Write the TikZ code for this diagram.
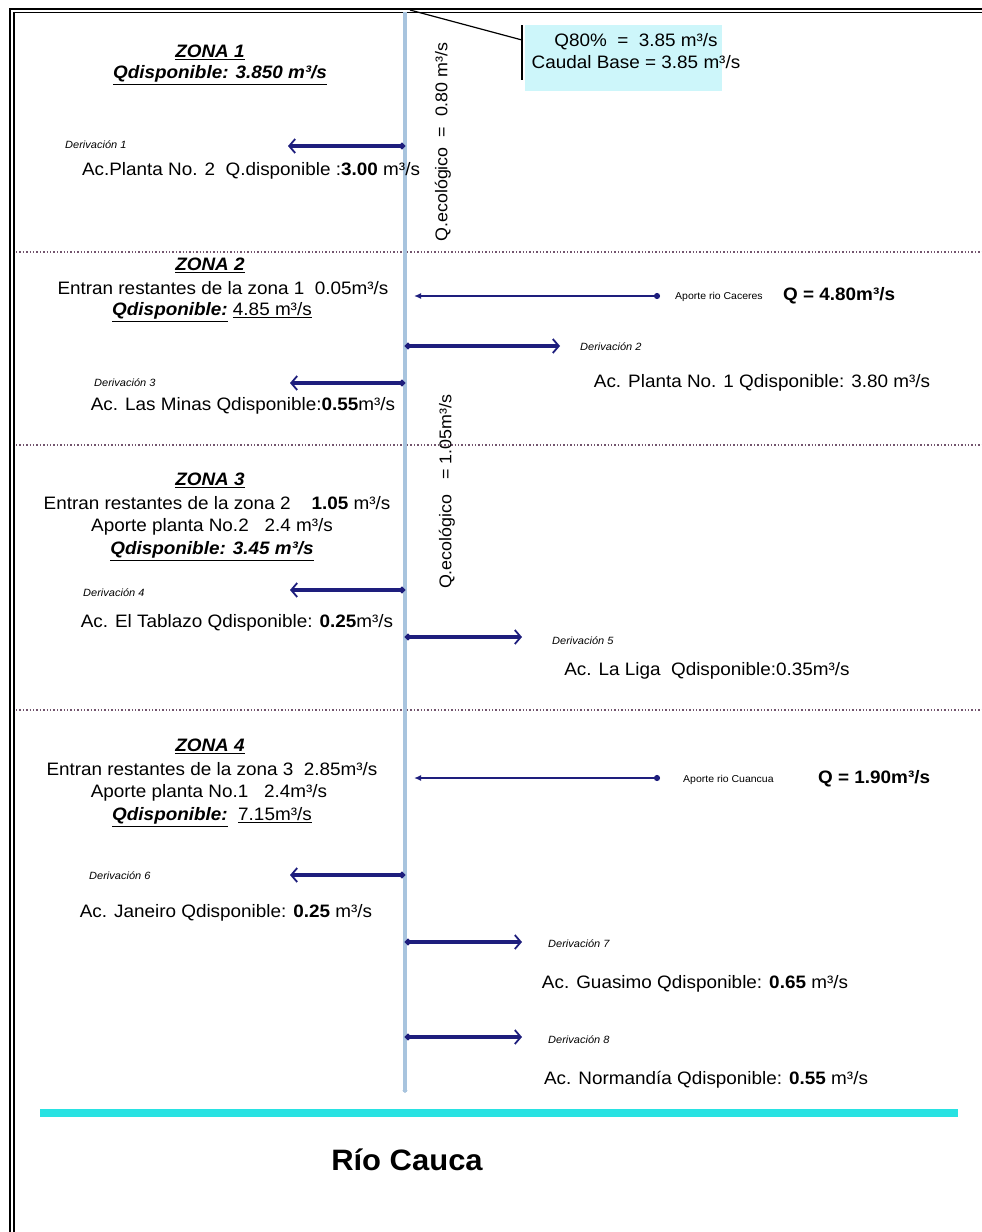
\documentclass[tikz,border=0pt]{standalone}
\usepackage{fontspec}
\setmainfont[FakeStretch=1.05]{Liberation Sans}
\usetikzlibrary{arrows.meta}
\definecolor{navy}{RGB}{30,30,125}
\definecolor{riv}{RGB}{168,196,222}
\definecolor{cauca}{RGB}{40,226,226}
\definecolor{boxc}{RGB}{205,246,250}
\definecolor{sepc}{RGB}{115,85,110}
\begin{document}
\begin{tikzpicture}[x=1pt,y=-1pt,
  txt/.style={font=\fontsize{18}{21}\selectfont, inner sep=0pt},
  zhead/.style={font=\fontsize{18}{21}\selectfont\bfseries\itshape, inner sep=0pt},
  derlab/.style={font=\fontsize{10.5}{12}\selectfont\itshape, inner sep=0pt, anchor=west},
  tinylab/.style={font=\fontsize{10}{12}\selectfont, inner sep=0pt, anchor=west},
  ecolab/.style={font=\fontsize{17}{19}\selectfont, inner sep=0pt, rotate=90},
  derarrow/.style={navy, line width=3.2pt, {Circle[length=6pt]}-{Straight Barb[length=6pt,width=14pt,line width=1.8pt]}},
  aparrow/.style={navy, line width=2pt, {Circle[length=6pt]}-{Latex[length=7pt,width=6pt]}},
  sepline/.style={sepc, dotted, line width=1.4pt},
  frame/.style={black, line width=1.4pt}
]
\useasboundingbox (0,0) rectangle (982,1232);
\fill[white] (0,0) rectangle (982,1232);

% frame
\draw[frame] (10,1232) -- (10,9) -- (982,9);
\draw[frame] (14,1232) -- (14,12.5) -- (982,12.5);

% separators
\coordinate (s1a) at (16,252); \coordinate (s1b) at (982,252);
\coordinate (s2a) at (16,445); \coordinate (s2b) at (982,445);
\coordinate (s3a) at (16,710); \coordinate (s3b) at (982,710);
\draw[sepline] (s1a) -- (s1b);
\draw[sepline] (s2a) -- (s2b);
\draw[sepline] (s3a) -- (s3b);

% Q80 box and leader
\node[fill=boxc, minimum width=197pt, minimum height=66pt, inner sep=0pt] (q80box) at (623.5,58) {};
\node[txt, align=center] (q80t) at (636,51) {Q80\%\ \ =\ \ 3.85 m³/s\\[1pt]Caudal Base = 3.85 m³/s};
\coordinate (lead0) at (410,10);
\coordinate (lead1) at (522,40);
\coordinate (bar0) at (522,25);
\coordinate (bar1) at (522,80);
\draw[line width=1.2pt] (lead0) -- (lead1);
\draw[line width=1.4pt] (bar0) -- (bar1);

% river
\coordinate (rtop) at (405,12);
\coordinate (rbot) at (405,1093);
\draw[riv, line width=4.5pt, -{To[length=3pt,width=5pt,line width=1pt]}] (rtop) -- (rbot);

% ecological flow labels
\node[ecolab] (eco1) at (443,142) {Q.ecológico\ \ =\ \ 0.80 m³/s};
\node[ecolab] (eco2) at (447,492) {Q.ecológico\ \ \ =\ 1.05m³/s};

% ZONA 1
\node[zhead] (z1) at (210,52) {\underline{ZONA 1}};
\node[zhead] (z1q) at (220,75) {\underline{Qdisponible: 3.850 m³/s}};
\node[derlab] (d1l) at (65,145) {Derivación 1};
\node[txt] (d1t) at (251,171) {Ac.Planta No. 2\ \ Q.disponible :\textbf{3.00} m³/s};

% ZONA 2
\node[zhead] (z2) at (210,265) {\underline{ZONA 2}};
\node[txt] (z2e) at (223,288) {Entran restantes de la zona 1\ \ 0.05m³/s};
\node[zhead] (z2q) at (212,312) {\underline{Qdisponible:} \underline{\mdseries\upshape 4.85 m³/s}};
\node[tinylab] (a1l) at (675,297) {Aporte rio Caceres};
\node[txt, anchor=west, font=\fontsize{18}{21}\selectfont\bfseries] (a1q) at (783,296) {Q = 4.80m³/s};
\node[derlab] (d2l) at (580,347) {Derivación 2};
\node[txt] (d2t) at (762,383) {Ac. Planta No. 1 Qdisponible: 3.80 m³/s};
\node[derlab] (d3l) at (94,383) {Derivación 3};
\node[txt] (d3t) at (243,406) {Ac. Las Minas Qdisponible:\textbf{0.55}m³/s};

% ZONA 3
\node[zhead] (z3) at (210,480) {\underline{ZONA 3}};
\node[txt] (z3e) at (217,503) {Entran restantes de la zona 2\ \ \ \ \textbf{1.05} m³/s};
\node[txt] (z3a) at (212,527) {Aporte planta No.2\ \ \ 2.4 m³/s};
\node[zhead] (z3q) at (212,551) {\underline{Qdisponible: 3.45 m³/s}};
\node[derlab] (d4l) at (83,593) {Derivación 4};
\node[txt] (d4t) at (237,623) {Ac. El Tablazo Qdisponible: \textbf{0.25}m³/s};
\node[derlab] (d5l) at (552,641) {Derivación 5};
\node[txt] (d5t) at (707,671) {Ac. La Liga\ \ Qdisponible:0.35m³/s};

% ZONA 4
\node[zhead] (z4) at (210,746) {\underline{ZONA 4}};
\node[txt] (z4e) at (212,769) {Entran restantes de la zona 3\ \ 2.85m³/s};
\node[txt] (z4a) at (209,793) {Aporte planta No.1\ \ \ 2.4m³/s};
\node[zhead] (z4q) at (212,817) {\underline{Qdisponible:}\ \ \underline{\mdseries\upshape 7.15m³/s}};
\node[tinylab] (a2l) at (683,780) {Aporte rio Cuancua};
\node[txt, anchor=west, font=\fontsize{18}{21}\selectfont\bfseries] (a2q) at (818,779) {Q = 1.90m³/s};
\node[derlab] (d6l) at (89,876) {Derivación 6};
\node[txt] (d6t) at (226,913) {Ac. Janeiro Qdisponible: \textbf{0.25} m³/s};
\node[derlab] (d7l) at (548,944) {Derivación 7};
\node[txt] (d7t) at (695,984) {Ac. Guasimo Qdisponible: \textbf{0.65} m³/s};
\node[derlab] (d8l) at (548,1040) {Derivación 8};
\node[txt] (d8t) at (706,1080) {Ac. Normandía Qdisponible: \textbf{0.55} m³/s};

% arrows
\coordinate (d1a) at (405,146); \coordinate (d1b) at (288,146);
\coordinate (d2a) at (405,346); \coordinate (d2b) at (560,346);
\coordinate (d3a) at (405,383); \coordinate (d3b) at (290,383);
\coordinate (d4a) at (405,590); \coordinate (d4b) at (290,590);
\coordinate (d5a) at (405,637); \coordinate (d5b) at (522,637);
\coordinate (d6a) at (405,875); \coordinate (d6b) at (290,875);
\coordinate (d7a) at (405,942); \coordinate (d7b) at (522,942);
\coordinate (d8a) at (405,1037); \coordinate (d8b) at (522,1037);
\coordinate (a1a) at (660,296); \coordinate (a1b) at (414,296);
\coordinate (a2a) at (660,778); \coordinate (a2b) at (414,778);
\foreach \n in {d1,d2,d3,d4,d5,d6,d7,d8}{\draw[derarrow] (\n a) -- (\n b);}
\draw[aparrow] (a1a) -- (a1b);
\draw[aparrow] (a2a) -- (a2b);

% Rio Cauca
\coordinate (ca) at (40,1113); \coordinate (cb) at (958,1113);
\draw[cauca, line width=8pt] (ca) -- (cb);
\node[font=\fontsize{29.5}{33}\selectfont\bfseries, inner sep=0pt] (cauca) at (407,1160) {Río Cauca};
\end{tikzpicture}
\end{document}
